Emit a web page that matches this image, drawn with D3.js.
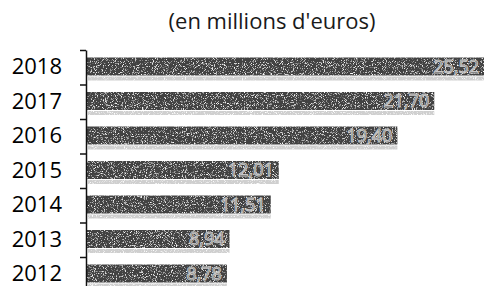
<!DOCTYPE html>
<html lang="fr">
	<head>
		<meta charset="utf-8">
		<title>en millions d'euros</title>
		<script src="https://cdn.jsdelivr.net/npm/d3@7"></script>
		<style type="text/css">
			body { margin: 0; background: #fff; }
			svg { display: block; font-family: "Open Sans", sans-serif; }
		</style>
	</head>
	<body>
		<script type="text/javascript">

			// size of the picture
			var w = 484;
			var h = 286;

			// data
			var years = ["2012", "2013", "2014", "2015", "2016", "2017", "2018"];
			var values = [8.78, 8.94, 11.51, 12.01, 19.40, 21.70, 25.52];
			var labels = ["8,78", "8,94", "11,51", "12,01", "19,40", "21,70", "25,52"];
			var title = "(en millions d'euros)";

			var data = years.map(function(d, i) {
				return {year: d, value: values[i], label: labels[i]};
			});

			var svg = d3.select("body")
				.append("svg")
				.attr("width", w)
				.attr("height", h);

			// grain so the bars look like the scanned original
			var defs = svg.append("defs");
			var grain = defs.append("filter")
				.attr("id", "grain")
				.attr("x", 0).attr("y", 0)
				.attr("width", "100%").attr("height", "100%");
			grain.append("feTurbulence")
				.attr("type", "fractalNoise")
				.attr("baseFrequency", 1.1)
				.attr("numOctaves", 2)
				.attr("seed", 4)
				.attr("result", "n");
			grain.append("feColorMatrix")
				.attr("in", "n")
				.attr("type", "matrix")
				.attr("values", "0 0 0 0 1  0 0 0 0 1  0 0 0 0 1  4 0 0 0 -2.2")
				.attr("result", "dots");
			grain.append("feComposite")
				.attr("in", "dots")
				.attr("in2", "SourceGraphic")
				.attr("operator", "in")
				.attr("result", "d2");
			var merge = grain.append("feMerge");
			merge.append("feMergeNode").attr("in", "SourceGraphic");
			merge.append("feMergeNode").attr("in", "d2");

			// scales
			var x = d3.scaleLinear()
				.domain([0, 25])
				.range([86, 86 + 25 * 16.05]);

			var y = d3.scaleBand()
				.domain(years.slice().reverse())
				.range([50, 291.5]);

			var barOffset = 7.5;
			var barHeight = 18;

			// title
			svg.append("text")
				.attr("x", 272)
				.attr("y", 29)
				.attr("text-anchor", "middle")
				.style("font-size", "22px")
				.style("fill", "#1a1a1a")
				.text(title);

			// light shadow under each bar
			svg.selectAll("rect.shadow")
				.data(data)
				.enter()
				.append("rect")
				.attr("class", "shadow")
				.attr("x", x(0) + 2)
				.attr("y", function(d) { return y(d.year) + barOffset + barHeight + 1; })
				.attr("width", function(d) { return x(d.value) - x(0) - 2; })
				.attr("height", 4)
				.style("fill", "#cfcfcf")
				.attr("filter", "url(#grain)");

			// bars
			svg.selectAll("rect.bar")
				.data(data)
				.enter()
				.append("rect")
				.attr("class", "bar")
				.attr("x", x(0))
				.attr("y", function(d) { return y(d.year) + barOffset; })
				.attr("width", function(d) { return x(d.value) - x(0); })
				.attr("height", barHeight)
				.style("fill", "#424242")
				.attr("filter", "url(#grain)");

			// value labels at the end of the bars
			svg.selectAll("text.value")
				.data(data)
				.enter()
				.append("text")
				.attr("class", "value")
				.attr("x", function(d) { return Math.min(x(d.value), w) - 5; })
				.attr("y", function(d) { return y(d.year) + barOffset + barHeight / 2; })
				.attr("dy", "0.36em")
				.attr("text-anchor", "end")
				.style("font-size", "18px")
				.style("fill", "#262626")
				.style("stroke", "#c8c8c8")
				.style("stroke-width", 1)
				.text(function(d) { return d.label; });

			// year labels
			svg.selectAll("text.year")
				.data(data)
				.enter()
				.append("text")
				.attr("class", "year")
				.attr("x", 62)
				.attr("y", function(d) { return y(d.year) + barOffset + barHeight / 2; })
				.attr("dy", "0.36em")
				.attr("text-anchor", "end")
				.style("font-size", "22px")
				.style("fill", "#000")
				.text(function(d) { return d.year; });

			// vertical axis, ticks between the categories
			var yi = d3.scaleLinear()
				.domain([0, years.length])
				.range([50, 291.5]);

			var axis = svg.append("g")
				.attr("transform", "translate(" + x(0) + ",0)")
				.call(d3.axisLeft(yi)
					.tickValues(d3.range(0, years.length + 1))
					.tickSize(6)
					.tickSizeOuter(0)
					.tickFormat(""));
			axis.select(".domain").attr("stroke", "#111").attr("stroke-width", 1.5);
			axis.selectAll(".tick line").attr("stroke", "#111").attr("stroke-width", 1.5);

		</script>
	</body>
</html>
